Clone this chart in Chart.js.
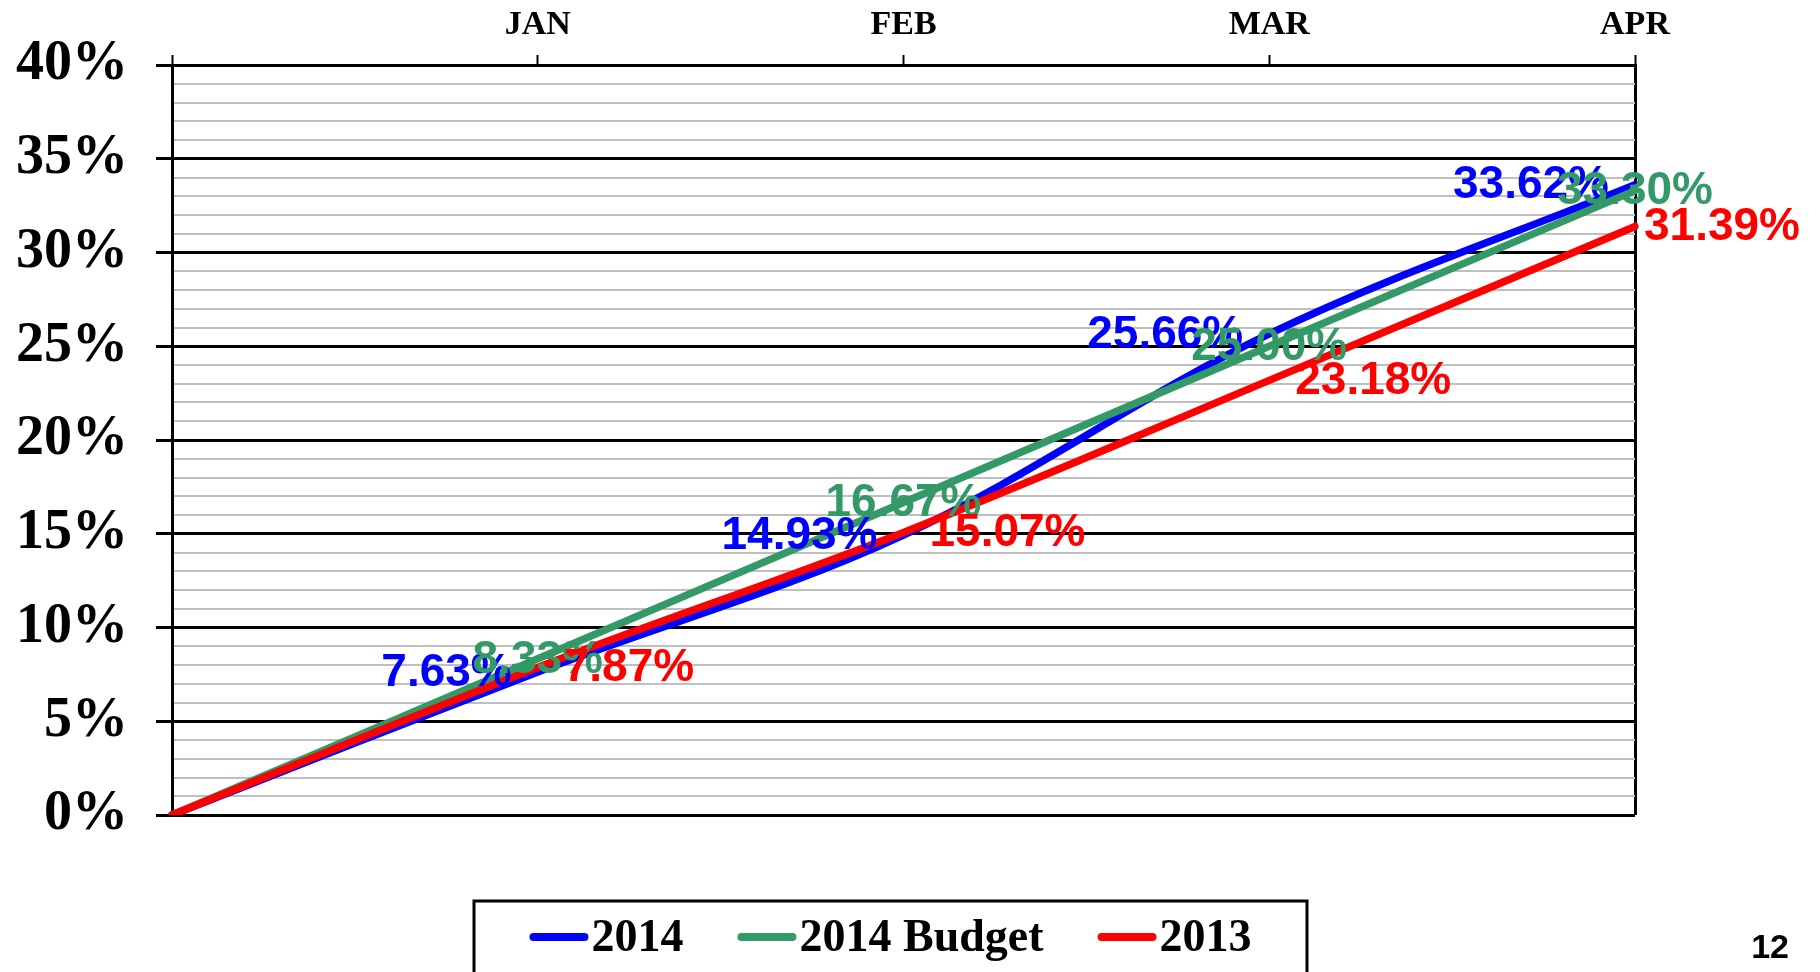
<!DOCTYPE html>
<html>
<head>
<meta charset="utf-8">
<script src="https://cdn.jsdelivr.net/npm/chart.js@4"></script>
<style>
html,body{margin:0;padding:0;background:#fff;}
#wrap{width:1820px;height:972px;position:relative;}
</style>
</head>
<body>
<div id="wrap"><canvas id="c"></canvas></div>
<script>
const months = ['', 'JAN', 'FEB', 'MAR', 'APR'];
const actual2014 = [0, 7.63, 14.93, 25.66, 33.62];
const budget2014 = [0, 8.33, 16.67, 25.00, 33.30];
const actual2013 = [0, 7.87, 15.07, 23.18, 31.39];
const seriesNames = ['2014', '2014 Budget', '2013'];
const pageNumber = '12';

const SERIF = '"Liberation Serif", "Times New Roman", serif';
const SANS = '"Liberation Sans", Arial, sans-serif';
const BLUE = '#0000FF', GREEN = '#339966', RED = '#FF0000';

const labelPlugin = {
  id: 'labels',
  afterDatasetsDraw(chart) {
    const ctx = chart.ctx;
    const modes = ['left', 'center', 'right'];
    ctx.save();
    ctx.font = 'bold 46px ' + SANS;
    ctx.textBaseline = 'middle';
    chart.data.datasets.forEach((ds, di) => {
      const meta = chart.getDatasetMeta(di);
      meta.data.forEach((pt, i) => {
        if (i === 0) return;
        const txt = ds.data[i].toFixed(2) + '%';
        const w = ctx.measureText(txt).width;
        let x;
        if (modes[di] === 'left') x = pt.x - 26 - w;
        else if (modes[di] === 'center') x = pt.x - w / 2;
        else x = pt.x + 26;
        if (x + w > chart.width - 20) x = chart.width - 20 - w;
        ctx.fillStyle = ds.borderColor;
        ctx.textAlign = 'left';
        ctx.fillText(txt, x, pt.y + 1);
      });
    });
    ctx.restore();
  },
  afterDraw(chart) {
    const ctx = chart.ctx;
    ctx.save();
    const bx = 474, by = 901, bw = 833, bh = 120;
    ctx.strokeStyle = '#000';
    ctx.lineWidth = 3;
    ctx.strokeRect(bx, by, bw, bh);
    ctx.font = 'bold 46px ' + SERIF;
    ctx.textBaseline = 'middle';
    ctx.textAlign = 'left';
    const lineW = 59, g1 = 3, g2 = 54;
    const items = chart.data.datasets.map(d => ({label: d.label, color: d.borderColor, w: ctx.measureText(d.label).width}));
    let total = 0;
    items.forEach((it, k) => { total += lineW + g1 + it.w + (k < items.length - 1 ? g2 : 0); });
    let x = bx + bw / 2 - total / 2;
    const ly = 937;
    items.forEach(it => {
      ctx.strokeStyle = it.color;
      ctx.lineWidth = 8;
      ctx.lineCap = 'round';
      ctx.beginPath();
      ctx.moveTo(x + 4, ly);
      ctx.lineTo(x + lineW - 4, ly);
      ctx.stroke();
      ctx.fillStyle = '#000';
      ctx.fillText(it.label, x + lineW + g1, ly + 2);
      x += lineW + g1 + it.w + g2;
    });
    ctx.font = 'bold 34px ' + SANS;
    ctx.textAlign = 'right';
    ctx.fillStyle = '#000';
    ctx.fillText(pageNumber, 1789, 949);
    ctx.restore();
  }
};

const common = {fill: false, pointRadius: 0, pointHoverRadius: 0, borderWidth: 7.5, tension: 0.35, borderCapStyle: 'round', borderJoinStyle: 'round'};

new Chart(document.getElementById('c'), {
  type: 'line',
  data: {
    labels: months,
    datasets: [
      Object.assign({label: seriesNames[0], data: actual2014, borderColor: BLUE, backgroundColor: BLUE, order: 3}, common),
      Object.assign({label: seriesNames[1], data: budget2014, borderColor: GREEN, backgroundColor: GREEN, order: 2}, common),
      Object.assign({label: seriesNames[2], data: actual2013, borderColor: RED, backgroundColor: RED, order: 1}, common)
    ]
  },
  options: {
    responsive: true,
    maintainAspectRatio: false,
    devicePixelRatio: 1,
    animation: false,
    layout: {padding: {left: 0, right: 185, top: 0, bottom: 157}},
    plugins: {legend: {display: false}, tooltip: {enabled: false}},
    scales: {
      x: {
        type: 'category',
        position: 'top',
        offset: false,
        grid: {
          offset: false,
          drawOnChartArea: true,
          color: c => c.index === 4 ? '#000' : 'rgba(0,0,0,0)',
          lineWidth: 3,
          tickColor: '#000',
          tickWidth: 2,
          tickLength: 10
        },
        border: {display: true, color: '#000', width: 3},
        ticks: {
          autoSkip: false,
          maxRotation: 0,
          color: '#000',
          font: {family: SERIF, size: 34, weight: 'bold'},
          padding: 9
        },
        afterFit(s) { s.height = 65; }
      },
      y: {
        min: 0,
        max: 40,
        grid: {
          color: c => (c.tick.value % 5 === 0) ? '#000' : '#bfbfbf',
          lineWidth: c => (c.tick.value % 5 === 0) ? 3 : 2,
          tickColor: c => (c.tick.value % 5 === 0) ? '#000' : 'rgba(0,0,0,0)',
          tickLength: 16
        },
        border: {display: true, color: '#000', width: 3},
        ticks: {
          stepSize: 1,
          autoSkip: false,
          color: '#000',
          font: {family: SERIF, size: 56, weight: 'bold'},
          padding: 28,
          callback: v => (v % 5 === 0) ? v + '%' : ''
        },
        afterFit(s) { s.width = 172; }
      }
    }
  },
  plugins: [labelPlugin]
});
</script>
</body>
</html>
